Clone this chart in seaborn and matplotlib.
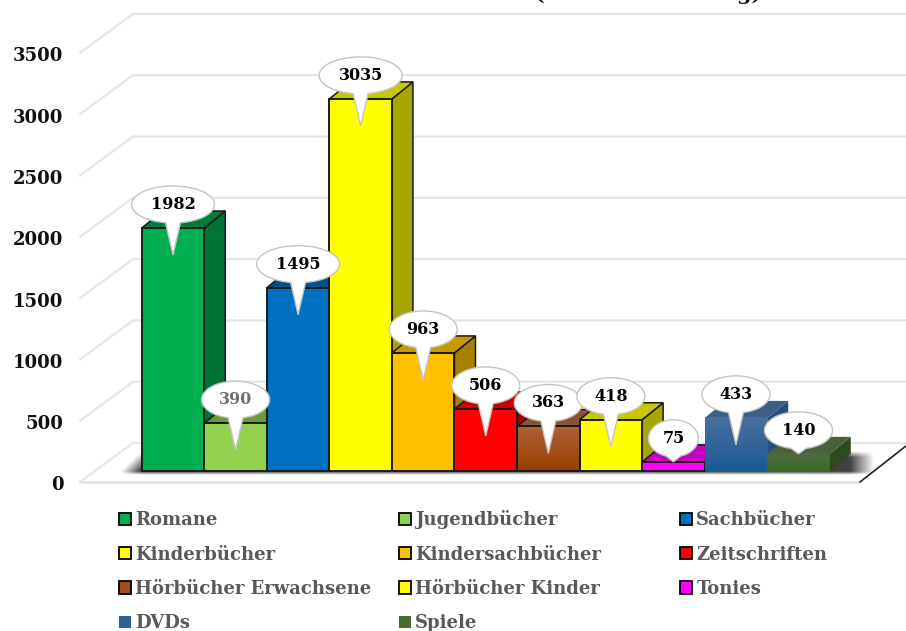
import numpy as np
import pandas as pd
import seaborn as sns
import matplotlib.pyplot as plt
from matplotlib.colors import LinearSegmentedColormap
from matplotlib.patches import Patch, Polygon
from matplotlib.transforms import ScaledTranslation

# values
categories = ["Romane", "Jugendbücher", "Sachbücher", "Kinderbücher", "Kindersachbücher",
  "Zeitschriften", "Hörbücher Erwachsene", "Hörbücher Kinder", "Tonies", "DVDs", "Spiele"]
values = [1982, 390, 1495, 3035, 963, 506, 363, 418, 75, 433, 140]
y_ticks = [0, 500, 1000, 1500, 2000, 2500, 3000, 3500]
title = "Gesamtbestand nach Medienart (Total am Stichtag)"

front_colors = ["#00B050", "#92D050", "#0070C0", "#FFFF00", "#FFC000", "#FF0000",
  "#A24C1C", "#FFFF00", "#FF00FF", "#2F6096", "#456B30"]
top_colors = ["#007D39", "#6B9A3B", "#00528C", "#C8C800", "#C89800", "#CC0000",
  "#8A5038", "#C8C800", "#C800C0", "#3C5F88", "#4A6140"]
side_colors = ["#007233", "#6B9A3B", "#00528C", "#A6A600", "#A88000", "#A00000",
  "#7A3810", "#A6A600", "#A000A0", "#24507F", "#2D4A20"]
gradients = {"Hörbücher Erwachsene": ("#AE6038", "#984000"),
  "DVDs": ("#4A6F9C", "#1A5A96"), "Spiele": ("#4E6B40", "#3A6A28")}
no_edge = ["DVDs", "Spiele"]
label_colors = ["black", "#6E6E6E"] + ["black"] * 9

FONT = "DejaVu Serif"
W, H = 906, 631
PX_X = 62.55   # pixels per bar
PX_Y = 0.1226  # pixels per unit
X0, Y0 = 173.0, 471.0
DEPTH_X, DEPTH_Y = 21 / PX_X, 17 / PX_Y

sns.set_theme(style="white")
plt.rcParams["font.family"] = [FONT, "DejaVu Sans"]
plt.rcParams["font.weight"] = "bold"

fig = plt.figure(figsize=(W / 100, H / 100), dpi=100)

# back wall and floor: the axis that carries the ticks
ax_wall = fig.add_axes([80 / W, (H - 482) / H, 780 / W, 3500 * PX_Y / H])
ax_wall.set_xlim(0, 780)
ax_wall.set_ylim(0, 3500)
ax_wall.set_xticks([])
ax_wall.set_yticks(y_ticks)
ax_wall.tick_params(axis="y", length=0, pad=12, labelsize=13, labelcolor="#111111")
nudge = ScaledTranslation(0, -1.5 / 100, fig.dpi_scale_trans)
for lab in ax_wall.get_yticklabels():
  lab.set_transform(lab.get_transform() + nudge)
sns.despine(ax=ax_wall, left=True, bottom=True)
ax_wall.patch.set_alpha(0)
for t in y_ticks:
  ax_wall.plot([0, 53, 826], [t, t + 39 / PX_Y, t + 39 / PX_Y], color="#E6E6E6", lw=1.6,
    clip_on=False, solid_joinstyle="miter")
ax_wall.plot([0, 780], [0, 0], color="#E3E3E3", lw=2.0, clip_on=False)
ax_wall.plot([780, 826], [0, 36 / PX_Y], color="#222222", lw=1.2, clip_on=False)

# bars on a full figure axes with the same unit scale
ax = fig.add_axes([0, 0, 1, 1], zorder=2)
df = pd.DataFrame({"Medium": categories, "Anzahl": values})
sns.barplot(data=df, x="Medium", y="Anzahl", hue="Medium", palette=dict(zip(categories, front_colors)),
  dodge=False, width=1.0, legend=False, saturation=1, ax=ax)
ax.set_axis_off()
ax.patch.set_alpha(0)

# soft shadow on the floor, slanted at both ends
sx, sy = np.meshgrid(np.linspace(112, 882, 400), np.linspace(445, 480, 70))
lift = np.clip(471 - sy, 0, None)
ramp_l = np.clip((sx - 120 - lift) / 20, 0, 1)
ramp_r = np.clip((874 - sx) / 24, 0, 1)
ramp_y = np.clip((sy - 451) / 6, 0, 1) * np.clip((475 - sy) / 3.5, 0, 1)
shadow = np.zeros(sx.shape + (4,))
shadow[..., :3] = 0.12
shadow[..., 3] = ramp_l * ramp_r * ramp_y * 0.85
to_x = lambda p: (p - X0) / PX_X
to_y = lambda p: (Y0 - p) / PX_Y
ax.imshow(shadow, extent=[to_x(112), to_x(882), to_y(480), to_y(445)], aspect="auto",
  origin="upper", zorder=0.5, interpolation="bilinear")

# 3d faces, fronts, gradients
for i, (bar, name, val) in enumerate(zip(ax.patches, categories, values)):
  left, right = bar.get_x(), bar.get_x() + bar.get_width()
  edge = "none" if name in no_edge else "#1A1A1A"
  ax.add_patch(Polygon([(right, 0), (right + DEPTH_X, DEPTH_Y), (right + DEPTH_X, val + DEPTH_Y), (right, val)],
    closed=True, facecolor=side_colors[i], edgecolor=edge, lw=1.1, zorder=2 + i * 0.01))
  ax.add_patch(Polygon([(left, val), (left + DEPTH_X, val + DEPTH_Y), (right + DEPTH_X, val + DEPTH_Y), (right, val)],
    closed=True, facecolor=top_colors[i], edgecolor=edge, lw=1.1, zorder=2 + i * 0.01))
  bar.set_zorder(3)
  bar.set_edgecolor(edge)
  bar.set_linewidth(1.4)
  if name in gradients:
    cmap = LinearSegmentedColormap.from_list(name, gradients[name])
    ax.imshow(np.linspace(0, 1, 64).reshape(-1, 1), extent=[left, right, 0, val], aspect="auto",
      origin="upper", cmap=cmap, zorder=3.2)
    bar.set_facecolor("none")
    bar.set_zorder(3.4)

# callouts
widths = {2: 50, 3: 68, 4: 83}
for i, val in enumerate(values):
  a = widths[len(str(val))] / 2 / PX_X
  b = 18.5 / PX_Y
  cy = val + 23.5 / PX_Y
  tip = val if val < 200 else val - 27 / PX_Y
  delta = np.arcsin(min(7.5 / widths[len(str(val))] * 2, 1))
  th = np.linspace(-np.pi / 2 + delta, 1.5 * np.pi - delta, 90)
  pts = np.column_stack([i + a * np.cos(th), cy + b * np.sin(th)])
  pts = np.vstack([pts, [i, tip]])
  ax.add_patch(Polygon(pts, closed=True, facecolor="white", edgecolor="#C4C4C4", lw=1.0,
    zorder=5 + i * 0.1))
  ax.text(i, cy, str(val), ha="center", va="center", fontsize=11.5, fontweight="bold",
    color=label_colors[i], zorder=5.05 + i * 0.1)

ax.set_xlim(to_x(0), to_x(W))
ax.set_ylim(to_y(H), to_y(0))

# legend, three columns filled row by row
def legend_handle(i):
  name = categories[i]
  return Patch(facecolor=front_colors[i], edgecolor="none" if name in no_edge else "black", lw=1.3, label=name)

for col, (x, y) in enumerate([(114, 506), (394, 505), (675, 506)]):
  hs = [legend_handle(i) for i in range(col, len(categories), 3)]
  fig.legend(handles=hs, loc="upper left", bbox_to_anchor=(x / W, 1 - y / H), frameon=False, ncol=1,
    fontsize=13, labelcolor="#595959", handlelength=0.66, handleheight=0.66, handletextpad=0.22,
    labelspacing=0.9, borderpad=0.3, borderaxespad=0)

fig.text(458 / W, 1 - 0.5 / H, title, ha="center", va="baseline", fontsize=15, fontweight="bold", color="#111111")

plt.savefig("out.png", dpi=100)
